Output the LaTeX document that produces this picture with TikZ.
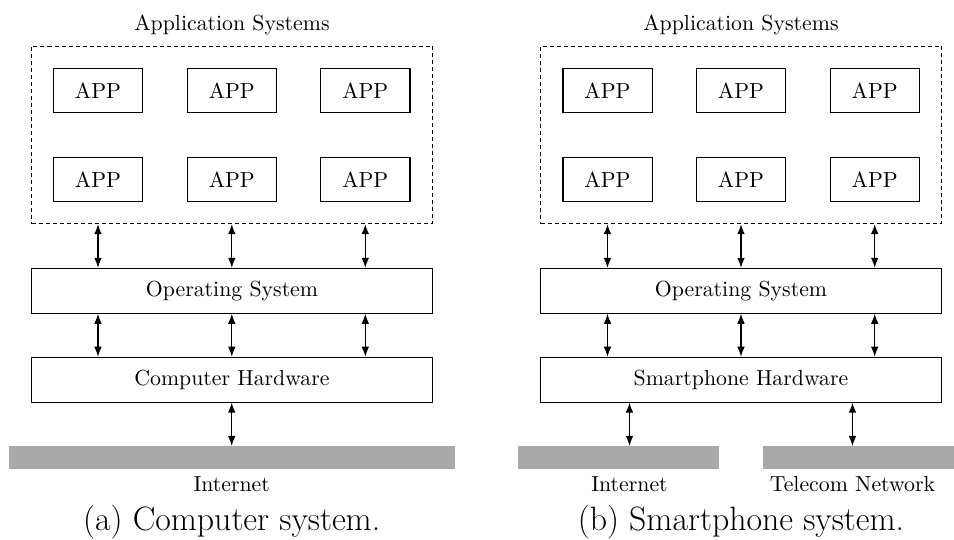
\documentclass[tikz,border=0pt]{standalone}
\usepackage{fontspec}
\usetikzlibrary{arrows.meta}
\definecolor{netgray}{RGB}{169,169,169}
\tikzset{
  txt/.style={font=\fontsize{10.9}{13}\selectfont},
  appbox/.style={draw, line width=0.6pt, minimum width=44.6pt, minimum height=22.2pt, inner sep=0pt, txt},
  layer/.style={draw, line width=0.6pt, minimum width=200.3pt, minimum height=22.4pt, inner sep=0pt, txt},
  group/.style={draw, line width=0.5pt, dash pattern=on 2pt off 1.5pt, minimum width=200.3pt, minimum height=88.8pt, inner sep=0pt},
  netbar/.style={fill=netgray, draw=none, minimum height=11.5pt, inner sep=0pt},
  caption/.style={font=\fontsize{16.9}{20}\selectfont, anchor=base},
  lbl/.style={txt, anchor=base, inner sep=0pt},
  link/.style={line width=0.55pt, {Latex[length=5pt,width=3.8pt]}-{Latex[length=5pt,width=3.8pt]}}
}
\begin{document}
\begin{tikzpicture}[x=0.5pt, y=-0.5pt]
\useasboundingbox (0,0) rectangle (954,540);
\clip (0,0) rectangle (954,540);

% ---------- (a) computer system ----------
\node[lbl] (ta) at (232,30.5) {Application Systems};
\node[group] (ga) at (232,134.9) {};
\node[appbox] (a11) at (98,90.5) {APP};
\node[appbox] (a12) at (231.8,90.5) {APP};
\node[appbox] (a13) at (365.3,90.5) {APP};
\node[appbox] (a21) at (98,179.5) {APP};
\node[appbox] (a22) at (231.8,179.5) {APP};
\node[appbox] (a23) at (365.3,179.5) {APP};
\node[layer] (osa) at (232,290.8) {Operating System};
\node[layer] (hwa) at (232,379.7) {Computer Hardware};
\node[netbar, minimum width=222.9pt] (bara) at (231.9,457.8) {};
\node[lbl] (neta) at (231.7,491.5) {Internet};
\node[caption] (capa) at (231.7,530.5) {(a) Computer system.};

\foreach \c in {a21,a22,a23}{
  \draw[link] (\c |- ga.south) -- (\c |- osa.north);
  \draw[link] (\c |- osa.south) -- (\c |- hwa.north);
}
\draw[link] (neta |- hwa.south) -- (neta |- bara.north);

% ---------- (b) smartphone system ----------
\node[lbl] (tb) at (741,30.5) {Application Systems};
\node[group] (gb) at (741,134.9) {};
\node[appbox] (b11) at (607.5,90.5) {APP};
\node[appbox] (b12) at (741,90.5) {APP};
\node[appbox] (b13) at (874.7,90.5) {APP};
\node[appbox] (b21) at (607.5,179.5) {APP};
\node[appbox] (b22) at (741,179.5) {APP};
\node[appbox] (b23) at (874.7,179.5) {APP};
\node[layer] (osb) at (741,290.8) {Operating System};
\node[layer] (hwb) at (741,379.7) {Smartphone Hardware};
\node[netbar, minimum width=100.5pt] (barb1) at (618.5,457.8) {};
\node[netbar, minimum width=100.5pt] (barb2) at (863.5,457.8) {};
\node[lbl] (netb1) at (629.5,491.5) {Internet};
\node[lbl] (netb2) at (852.5,491.5) {Telecom Network};
\node[caption] (capb) at (741,530.5) {(b) Smartphone system.};

\foreach \c in {b21,b22,b23}{
  \draw[link] (\c |- gb.south) -- (\c |- osb.north);
  \draw[link] (\c |- osb.south) -- (\c |- hwb.north);
}
\draw[link] (netb1 |- hwb.south) -- (netb1 |- barb1.north);
\draw[link] (netb2 |- hwb.south) -- (netb2 |- barb2.north);
\end{tikzpicture}
\end{document}
